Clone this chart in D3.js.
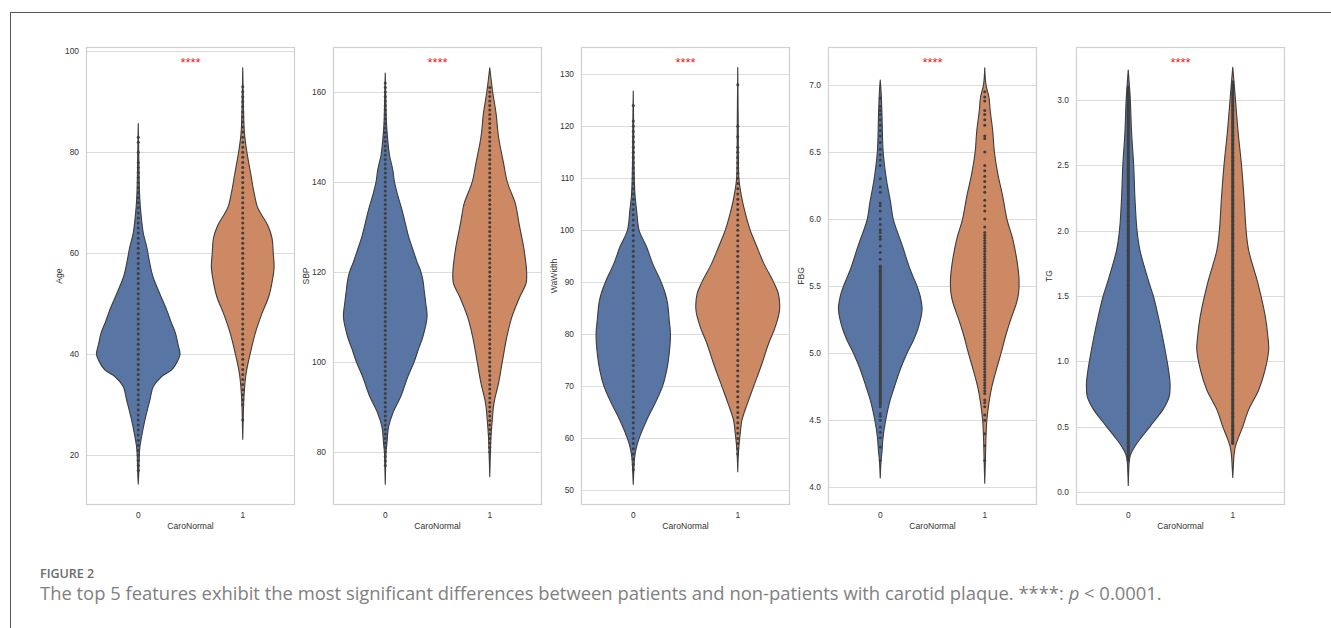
<!DOCTYPE html>
<html>
<head>
<meta charset="utf-8">
<script src="https://cdn.jsdelivr.net/npm/d3@7"></script>
<style>
  html, body { margin: 0; padding: 0; background: #fff; }
  svg { display: block; }
</style>
</head>
<body>
<svg id="fig" width="1331" height="628"></svg>
<script>
// ---- data ----
const features = ['Age', 'SBP', 'WaWidth', 'FBG', 'TG'];
const groups = ['0', '1'];
const xTitle = 'CaroNormal';
const starLabel = '****';

const yDomains = [[10.16, 100.85], [68.2, 170], [47.2, 135.25], [3.868, 7.283], [-0.1, 3.406]];
const yTicks = [
  [20, 40, 60, 80, 100],
  [80, 100, 120, 140, 160],
  [50, 60, 70, 80, 90, 100, 110, 120, 130],
  [4.0, 4.5, 5.0, 5.5, 6.0, 6.5, 7.0],
  [0.0, 0.5, 1.0, 1.5, 2.0, 2.5, 3.0]
];
const yTickFormats = ['d', 'd', 'd', '.1f', '.1f'];

// violin outlines: [value, half-width as share of the widest violin]
const ageViolin0 = [[14.3,0],[17,0.015],[20,0.025],[21.7,0.04],[23.7,0.08],[27,0.16],[31,0.28],[33.6,0.36],[35.6,0.56],[36.9,0.8],[38.5,0.93],[40,1.0],[42,0.95],[44.2,0.89],[46.5,0.78],[48.8,0.68],[52.1,0.51],[55.4,0.35],[58.7,0.26],[61,0.21],[64,0.12],[66.6,0.08],[69.2,0.05],[72,0.03],[78,0.015],[85.7,0]];
const ageViolin1 = [[23.2,0],[27,0.01],[30,0.02],[33,0.04],[36.2,0.08],[40.2,0.18],[44.2,0.3],[48.1,0.46],[51.4,0.62],[54.7,0.71],[57.3,0.75],[60,0.73],[63,0.7],[65.5,0.6],[67.5,0.46],[69.2,0.35],[72,0.27],[75.8,0.19],[80.5,0.09],[83.8,0.04],[88,0.02],[92,0.01],[96.75,0]];
const sbpViolin0 = [[72.8,0],[77,0.01],[80,0.02],[81.9,0.04],[85.6,0.08],[88.6,0.18],[92.3,0.37],[96.7,0.54],[100,0.69],[103,0.8],[105.6,0.9],[110,1.0],[113,0.97],[116,0.93],[118.2,0.9],[120.4,0.84],[122,0.77],[125,0.66],[127.8,0.56],[130.8,0.48],[133.8,0.4],[137,0.3],[140,0.22],[142.7,0.18],[146,0.1],[149.3,0.06],[153,0.03],[158,0.015],[164.2,0]];
const sbpViolin1 = [[74.5,0],[78,0.01],[81,0.02],[83.4,0.03],[87.1,0.06],[90.8,0.1],[95.3,0.21],[100,0.3],[105.6,0.41],[110,0.53],[114.5,0.72],[117.5,0.87],[120.4,0.88],[123,0.85],[125.6,0.81],[130.8,0.7],[133,0.66],[135.3,0.61],[140,0.42],[144.2,0.33],[150,0.21],[155.3,0.15],[160,0.07],[163,0.03],[165.4,0]];
const wawViolin0 = [[51.2,0],[54,0.015],[56.5,0.035],[58.4,0.08],[60,0.14],[63.5,0.32],[66.7,0.52],[70,0.7],[73.1,0.8],[76.3,0.86],[80,0.89],[82.8,0.86],[86,0.82],[88,0.76],[90,0.67],[93.7,0.46],[96.8,0.32],[100,0.14],[103.9,0.08],[107,0.04],[112,0.02],[120,0.01],[126.8,0]];
const wawViolin1 = [[53.6,0],[57.75,0.02],[61,0.06],[63.5,0.1],[66.7,0.23],[70,0.38],[74.4,0.58],[78.3,0.74],[81.5,0.9],[84.7,1.0],[87.9,0.97],[90,0.86],[93.7,0.62],[96.8,0.46],[100,0.3],[103.3,0.18],[106.5,0.09],[109.7,0.03],[115,0.015],[122,0.01],[131.3,0]];
const fbgViolin0 = [[4.07,0],[4.2,0.02],[4.26,0.04],[4.38,0.07],[4.5,0.13],[4.63,0.22],[4.75,0.34],[4.88,0.48],[5.0,0.64],[5.1,0.8],[5.2,0.92],[5.325,1.0],[5.42,0.96],[5.5,0.88],[5.62,0.72],[5.8,0.53],[6.0,0.31],[6.12,0.25],[6.29,0.15],[6.5,0.07],[6.79,0.04],[6.95,0.02],[7.036,0]];
const fbgViolin1 = [[4.03,0],[4.2,0.015],[4.38,0.03],[4.5,0.05],[4.63,0.1],[4.75,0.17],[4.88,0.28],[5.0,0.39],[5.13,0.5],[5.25,0.62],[5.375,0.76],[5.45,0.81],[5.55,0.82],[5.67,0.78],[5.85,0.67],[6.0,0.53],[6.17,0.43],[6.34,0.31],[6.5,0.23],[6.66,0.19],[6.81,0.13],[6.91,0.1],[7.0,0.03],[7.128,0]];
const tgViolin0 = [[0.05,0],[0.15,0.01],[0.22,0.02],[0.28,0.05],[0.35,0.16],[0.42,0.32],[0.5,0.52],[0.55,0.64],[0.63,0.83],[0.73,0.98],[0.83,1.0],[0.92,0.97],[1.0,0.93],[1.19,0.82],[1.34,0.72],[1.5,0.6],[1.6,0.5],[1.85,0.28],[2.0,0.21],[2.25,0.16],[2.5,0.13],[2.75,0.08],[3.0,0.05],[3.1,0.03],[3.23,0]];
const tgViolin1 = [[0.11,0],[0.2,0.015],[0.28,0.03],[0.35,0.065],[0.42,0.14],[0.5,0.24],[0.63,0.38],[0.78,0.62],[0.93,0.77],[1.09,0.86],[1.19,0.84],[1.34,0.78],[1.6,0.6],[1.85,0.38],[2.0,0.32],[2.25,0.27],[2.5,0.21],[2.75,0.13],[3.0,0.065],[3.1,0.04],[3.25,0]];

// observed values (inner points): runs of [from, to, step] or single [value]
const ageDots0 = [[17, 78, 1], [80], [82, 83, 1]];
const ageDots1 = [[27], [30, 93, 1]];
const sbpDots0 = [[77, 162, 1]];
const sbpDots1 = [[80, 161, 1]];
const wawDots0 = [[54, 121, 1], [124]];
const wawDots1 = [[57, 116, 1], [118], [120], [128]];
const fbgDots0 = [[4.2],[4.3],[4.37],[4.41],[4.45],[4.5],[4.53],[4.55],[4.6],[4.62, 5.65, 0.01],[5.7],[5.75],[5.8],[5.85],[5.87],[5.9],[5.92],[5.96],[6.0],[6.06],[6.1],[6.12],[6.2],[6.24],[6.3],[6.4],[6.44],[6.48],[6.52],[6.57],[6.62],[6.66],[6.7],[6.74],[6.78],[6.81],[6.84],[6.9]];
const fbgDots1 = [[4.2],[4.31],[4.4],[4.5],[4.54],[4.6],[4.63],[4.65],[4.7, 5.9, 0.02],[5.94],[6.0],[6.06],[6.1],[6.14],[6.2],[6.24],[6.28],[6.32],[6.36],[6.4],[6.5],[6.6],[6.62],[6.7],[6.74],[6.78],[6.81],[6.88],[6.91],[6.95]];
const tgDots0 = [[0.24, 3.1, 0.01]];
const tgDots1 = [[0.37, 3.14, 0.01]];

const violins = [[ageViolin0, ageViolin1], [sbpViolin0, sbpViolin1], [wawViolin0, wawViolin1], [fbgViolin0, fbgViolin1], [tgViolin0, tgViolin1]];
const dots = [[ageDots0, ageDots1], [sbpDots0, sbpDots1], [wawDots0, wawDots1], [fbgDots0, fbgDots1], [tgDots0, tgDots1]];

const captionHead = 'FIGURE 2';
const captionText = 'The top 5 features exhibit the most significant differences between patients and non-patients with carotid plaque. ****: ';

// ---- layout ----
const panelLeft = [86, 333, 581, 828, 1076];
const panelW = 209, panelTop = 47, panelBottom = 505;
const fills = ['#5875a4', '#cc8963'];
const tickFont = 'Liberation Sans, Arial, sans-serif';

function expand(runs) {
  const out = [];
  runs.forEach(r => {
    if (r.length === 1) { out.push(r[0]); return; }
    const n = Math.round((r[1] - r[0]) / r[2]);
    for (let i = 0; i <= n; i++) out.push(+(r[0] + i * r[2]).toFixed(4));
  });
  return out;
}

const svg = d3.select('#fig');

// outer frame (top and left rules)
svg.append('line').attr('x1', 10).attr('x2', 1331).attr('y1', 12.5).attr('y2', 12.5)
  .attr('stroke', '#555').attr('stroke-width', 1);
svg.append('line').attr('x1', 10.5).attr('x2', 10.5).attr('y1', 12).attr('y2', 628)
  .attr('stroke', '#555').attr('stroke-width', 1);

features.forEach((feat, i) => {
  const L = panelLeft[i];
  const x = d3.scaleBand().domain(groups).range([L, L + panelW]);
  const y = d3.scaleLinear().domain(yDomains[i]).range([panelBottom, panelTop]);
  const w = d3.scaleLinear().domain([0, 1]).range([0, x.bandwidth() * 0.4]);
  const g = svg.append('g');

  // grid
  g.append('g').selectAll('line').data(yTicks[i]).join('line')
    .attr('x1', L).attr('x2', L + panelW)
    .attr('y1', d => Math.round(y(d)) + 0.5).attr('y2', d => Math.round(y(d)) + 0.5)
    .attr('stroke', '#dcdcdc').attr('stroke-width', 1);

  // frame
  g.append('rect').attr('x', L + 0.5).attr('y', panelTop + 0.5)
    .attr('width', panelW - 1).attr('height', panelBottom - panelTop - 1)
    .attr('fill', 'none').attr('stroke', '#d0d0d0').attr('stroke-width', 1.2);

  // y tick labels
  const fmt = d3.format(yTickFormats[i]);
  g.append('g').selectAll('text').data(yTicks[i]).join('text')
    .attr('x', L - 7).attr('y', d => y(d)).attr('dy', '0.35em')
    .attr('text-anchor', 'end').attr('font-family', tickFont)
    .attr('font-size', 8.4).attr('fill', '#333')
    .text(d => fmt(d));

  // x tick labels + title
  g.append('g').selectAll('text').data(groups).join('text')
    .attr('x', d => x(d) + x.bandwidth() / 2).attr('y', 515).attr('dy', '0.35em')
    .attr('text-anchor', 'middle').attr('font-family', tickFont)
    .attr('font-size', 8.4).attr('fill', '#333').text(d => d);
  g.append('text').attr('x', L + panelW / 2).attr('y', 528.5)
    .attr('text-anchor', 'middle').attr('font-family', tickFont)
    .attr('font-size', 8.6).attr('fill', '#333').text(xTitle);

  // y title
  g.append('text').attr('transform', `translate(${L - 24},${(panelTop + panelBottom) / 2}) rotate(-90)`)
    .attr('text-anchor', 'middle').attr('font-family', tickFont)
    .attr('font-size', 8.6).attr('fill', '#333').text(feat);

  // violins
  groups.forEach((grp, j) => {
    const cx = x(grp) + x.bandwidth() / 2;
    const area = d3.area()
      .y(d => y(d[0]))
      .x0(d => cx - w(d[1]))
      .x1(d => cx + w(d[1]))
      .curve(d3.curveCatmullRom.alpha(0.5));
    g.append('path').datum(violins[i][j])
      .attr('d', area)
      .attr('fill', fills[j])
      .attr('stroke', '#3d3d3d').attr('stroke-width', 1.1)
      .attr('stroke-linejoin', 'round');

    g.append('g').selectAll('circle').data(expand(dots[i][j])).join('circle')
      .attr('cx', cx).attr('cy', d => y(d)).attr('r', 1.5)
      .attr('fill', '#3f3f3f');
  });

  // significance stars
  g.append('text').attr('x', L + panelW / 2).attr('y', 66.5)
    .attr('text-anchor', 'middle').attr('font-family', tickFont)
    .attr('font-size', 13).attr('fill', '#ee1c1c').text(starLabel);
});

// caption
svg.append('text').attr('x', 40).attr('y', 578)
  .attr('font-family', 'Open Sans, sans-serif').attr('font-weight', 600)
  .attr('font-size', 12.5).attr('fill', '#6b6b6b').text(captionHead);

const cap = svg.append('text').attr('x', 40).attr('y', 600)
  .attr('font-family', 'Open Sans, sans-serif')
  .attr('font-size', 15.5).attr('fill', '#808080');
cap.append('tspan').text(captionText);
cap.append('tspan').attr('font-style', 'italic').text('p');
cap.append('tspan').text(' < 0.0001.');

// fit caption width to the reference line length
const capLen = cap.node().getComputedTextLength();
cap.attr('font-size', 15.5 * 1123 / capLen);
</script>
</body>
</html>
